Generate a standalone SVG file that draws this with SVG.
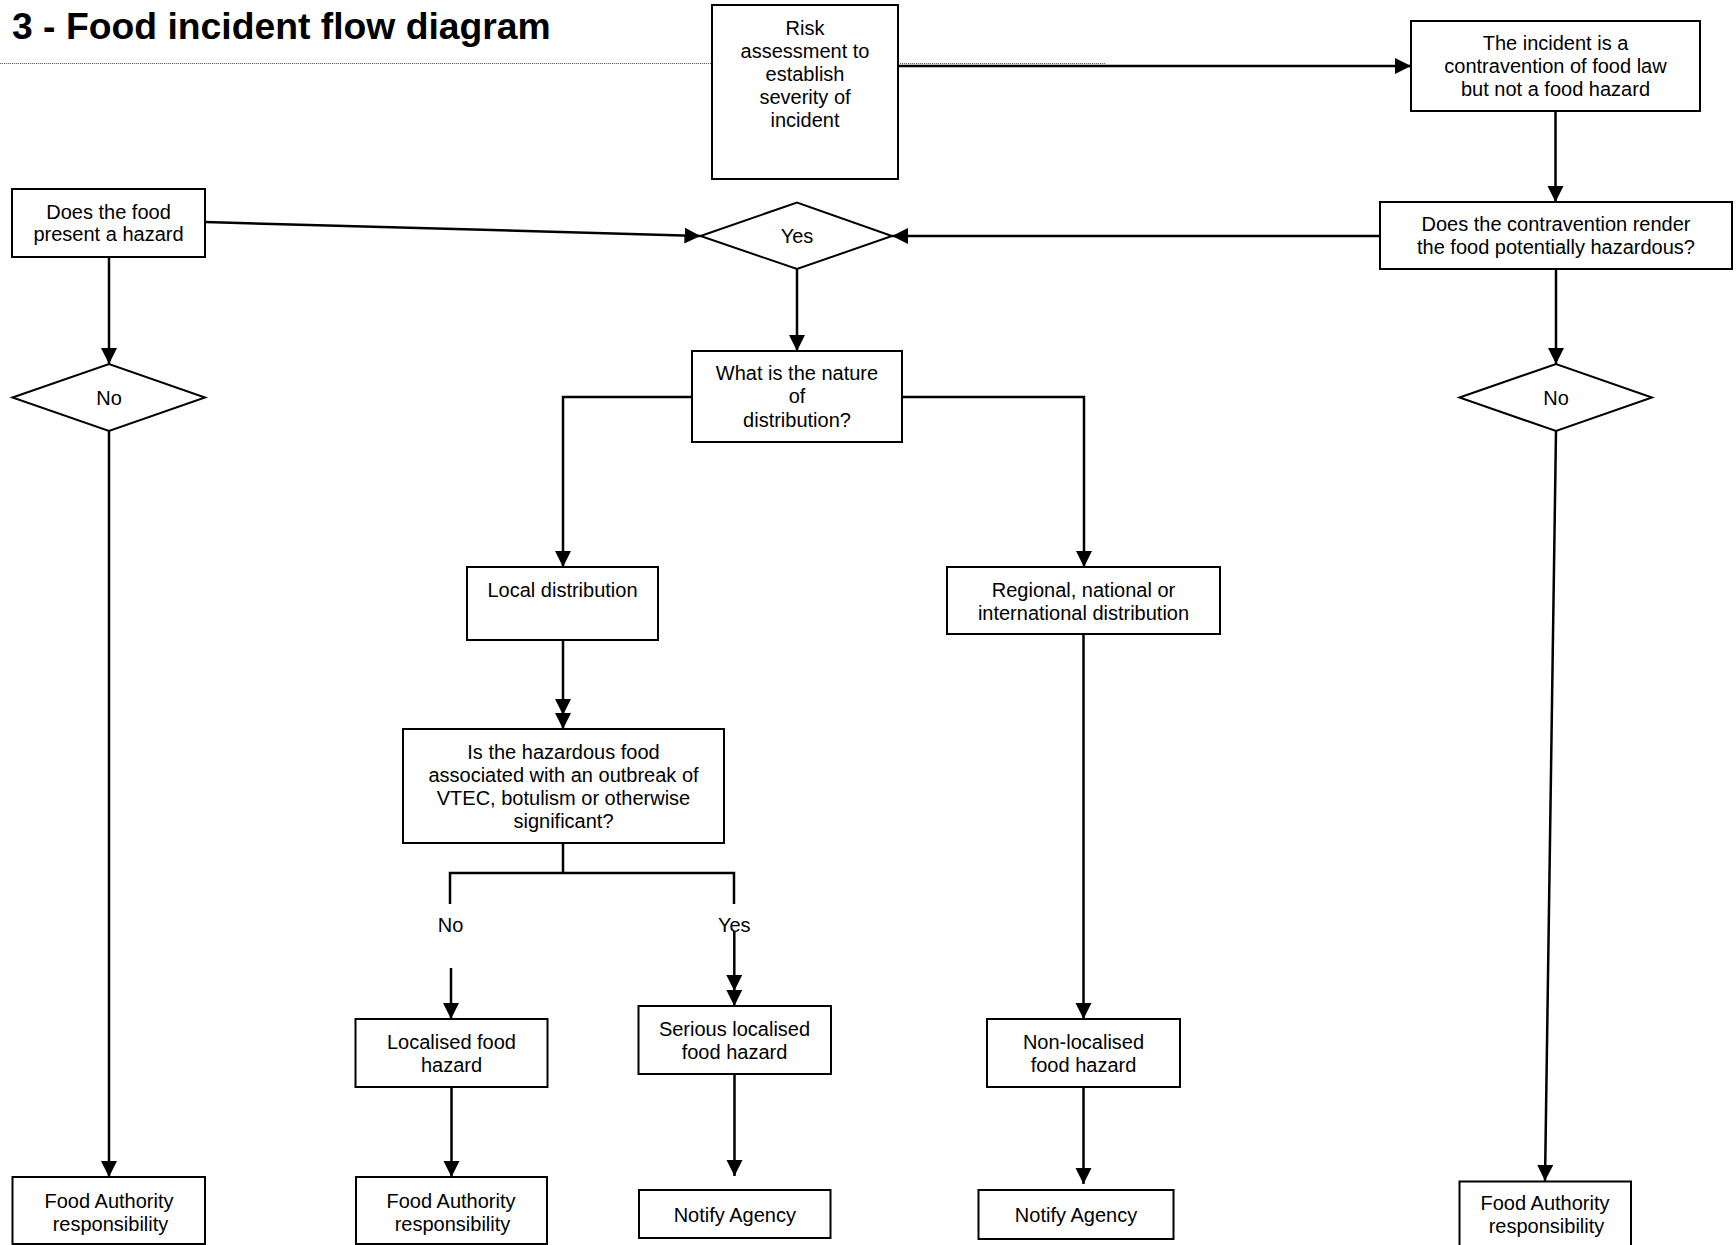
<svg xmlns="http://www.w3.org/2000/svg" width="1736" height="1245" viewBox="0 0 1736 1245">
<style>
  .box{fill:#fff;stroke:#000;stroke-width:2}
  .t{font-family:"Liberation Sans",Arial,sans-serif;font-size:20px;fill:#000;text-anchor:middle}
  .title{font-family:"Liberation Sans",Arial,sans-serif;font-size:37.3px;font-weight:bold;fill:#000}
  .c{fill:none;stroke:#000;stroke-width:2.5}
  .ca{fill:none;stroke:#000;stroke-width:2.5;marker-end:url(#ah)}
  .cd{fill:none;stroke:#000;stroke-width:2.5;marker-mid:url(#ah);marker-end:url(#ah)}
  .dot{fill:none;stroke:#1f8f1f;stroke-width:1.2;stroke-dasharray:1 1}
</style>
<defs>
  <marker id="ah" markerUnits="userSpaceOnUse" markerWidth="17" markerHeight="17" refX="16" refY="8" orient="auto">
    <path d="M0,0 L16,8 L0,16 z" fill="#000"/>
  </marker>
</defs>
<rect width="1736" height="1245" fill="#fff"/>
<text class="title" x="12" y="38.5">3 - Food incident flow diagram</text>
<line class="dot" x1="0" y1="63.5" x2="712" y2="63.5"/>
<line class="dot" x1="898" y1="63.5" x2="1106" y2="63.5"/>

<g id="connectors">
  <path class="ca" d="M898,66 L1411,66"/>
  <path class="ca" d="M1555.5,111 L1555.5,202"/>
  <path class="ca" d="M1380,236 L892,236"/>
  <path class="ca" d="M205,222 L700.5,236"/>
  <path class="ca" d="M109,257 L109,364"/>
  <path class="ca" d="M1556,269 L1556,364"/>
  <path class="ca" d="M797,269 L797,351"/>
  <path class="ca" d="M692,397 L563,397 L563,567"/>
  <path class="ca" d="M902,397 L1084,397 L1084,567"/>
  <path class="cd" d="M563,640 L563,715 L563,729"/>
  <path class="c" d="M563,843 L563,873"/>
  <path class="c" d="M450,904 L450,873 L734,873 L734,904"/>
  <path class="ca" d="M451,968 L451,1019"/>
  <path class="cd" d="M734.3,931 L734.3,991 L734.3,1006"/>
  <path class="ca" d="M1083.5,634 L1083.5,1019"/>
  <path class="ca" d="M1083.5,1087 L1083.5,1184"/>
  <path class="ca" d="M109,431 L109,1177"/>
  <path class="ca" d="M451.5,1087 L451.5,1177"/>
  <path class="ca" d="M734.5,1074 L734.5,1176"/>
  <path class="ca" d="M1556,431 L1545,1181"/>
</g>

<g id="risk">
  <rect class="box" x="712" y="5" width="186" height="174"/>
  <text class="t" x="805" y="35">Risk</text>
  <text class="t" x="805" y="58">assessment to</text>
  <text class="t" x="805" y="81">establish</text>
  <text class="t" x="805" y="104">severity of</text>
  <text class="t" x="805" y="126.5">incident</text>
</g>
<g id="contravention">
  <rect class="box" x="1411" y="21" width="289" height="90"/>
  <text class="t" x="1555.5" y="49.5">The incident is a</text>
  <text class="t" x="1555.5" y="72.5">contravention of food law</text>
  <text class="t" x="1555.5" y="95.5">but not a food hazard</text>
</g>
<g id="render-hazardous">
  <rect class="box" x="1380" y="202" width="352" height="67"/>
  <text class="t" x="1556" y="231">Does the contravention render</text>
  <text class="t" x="1556" y="254">the food potentially hazardous?</text>
</g>
<g id="yes-diamond">
  <polygon class="box" points="700.5,236 797,202.5 892,236 797,269"/>
  <text class="t" x="797" y="243">Yes</text>
</g>
<g id="present-hazard">
  <rect class="box" x="12" y="189" width="193" height="68"/>
  <text class="t" x="108.5" y="218.5">Does the food</text>
  <text class="t" x="108.5" y="241">present a hazard</text>
</g>
<g id="no-left">
  <polygon class="box" points="12.5,397.5 109,364 205,397.5 109,431"/>
  <text class="t" x="109" y="405">No</text>
</g>
<g id="no-right">
  <polygon class="box" points="1459.5,397.5 1556,364 1652,397.5 1556,431"/>
  <text class="t" x="1556" y="405">No</text>
</g>
<g id="nature">
  <rect class="box" x="692" y="351" width="210" height="91"/>
  <text class="t" x="797" y="380">What is the nature</text>
  <text class="t" x="797" y="403">of</text>
  <text class="t" x="797" y="426.5">distribution?</text>
</g>
<g id="local">
  <rect class="box" x="467" y="567" width="191" height="73"/>
  <text class="t" x="562.5" y="597">Local distribution</text>
</g>
<g id="regional">
  <rect class="box" x="947" y="567" width="273" height="67"/>
  <text class="t" x="1083.5" y="597">Regional, national or</text>
  <text class="t" x="1083.5" y="620">international distribution</text>
</g>
<g id="outbreak">
  <rect class="box" x="403" y="729" width="321" height="114"/>
  <text class="t" x="563.5" y="759">Is the hazardous food</text>
  <text class="t" x="563.5" y="782">associated with an outbreak of</text>
  <text class="t" x="563.5" y="805">VTEC, botulism or otherwise</text>
  <text class="t" x="563.5" y="828">significant?</text>
</g>
<g id="label-no">
  <text class="t" x="450.5" y="932">No</text>
</g>
<g id="label-yes">
  <text class="t" x="734.3" y="932">Yes</text>
</g>
<g id="localised">
  <rect class="box" x="355.5" y="1019" width="192" height="68"/>
  <text class="t" x="451.5" y="1049">Localised food</text>
  <text class="t" x="451.5" y="1071.5">hazard</text>
</g>
<g id="serious">
  <rect class="box" x="638.5" y="1006" width="192.5" height="68"/>
  <text class="t" x="734.5" y="1036">Serious localised</text>
  <text class="t" x="734.5" y="1058.5">food hazard</text>
</g>
<g id="non-localised">
  <rect class="box" x="987" y="1019" width="193" height="68"/>
  <text class="t" x="1083.5" y="1049">Non-localised</text>
  <text class="t" x="1083.5" y="1071.5">food hazard</text>
</g>
<g id="fa-left">
  <rect class="box" x="12.5" y="1177" width="192.5" height="67"/>
  <text class="t" x="109" y="1208">Food Authority</text>
  <text class="t" x="110.5" y="1231">responsibility</text>
</g>
<g id="fa-mid">
  <rect class="box" x="356" y="1177" width="191" height="67"/>
  <text class="t" x="451" y="1208">Food Authority</text>
  <text class="t" x="452.5" y="1231">responsibility</text>
</g>
<g id="notify-mid">
  <rect class="box" x="639" y="1190" width="191.5" height="48"/>
  <text class="t" x="734.8" y="1222">Notify Agency</text>
</g>
<g id="notify-right">
  <rect class="box" x="978.5" y="1190" width="195" height="49"/>
  <text class="t" x="1076" y="1222">Notify Agency</text>
</g>
<g id="fa-right">
  <rect class="box" x="1459.5" y="1181.5" width="171.5" height="70"/>
  <text class="t" x="1545" y="1210">Food Authority</text>
  <text class="t" x="1546.5" y="1232.5">responsibility</text>
</g>
</svg>
